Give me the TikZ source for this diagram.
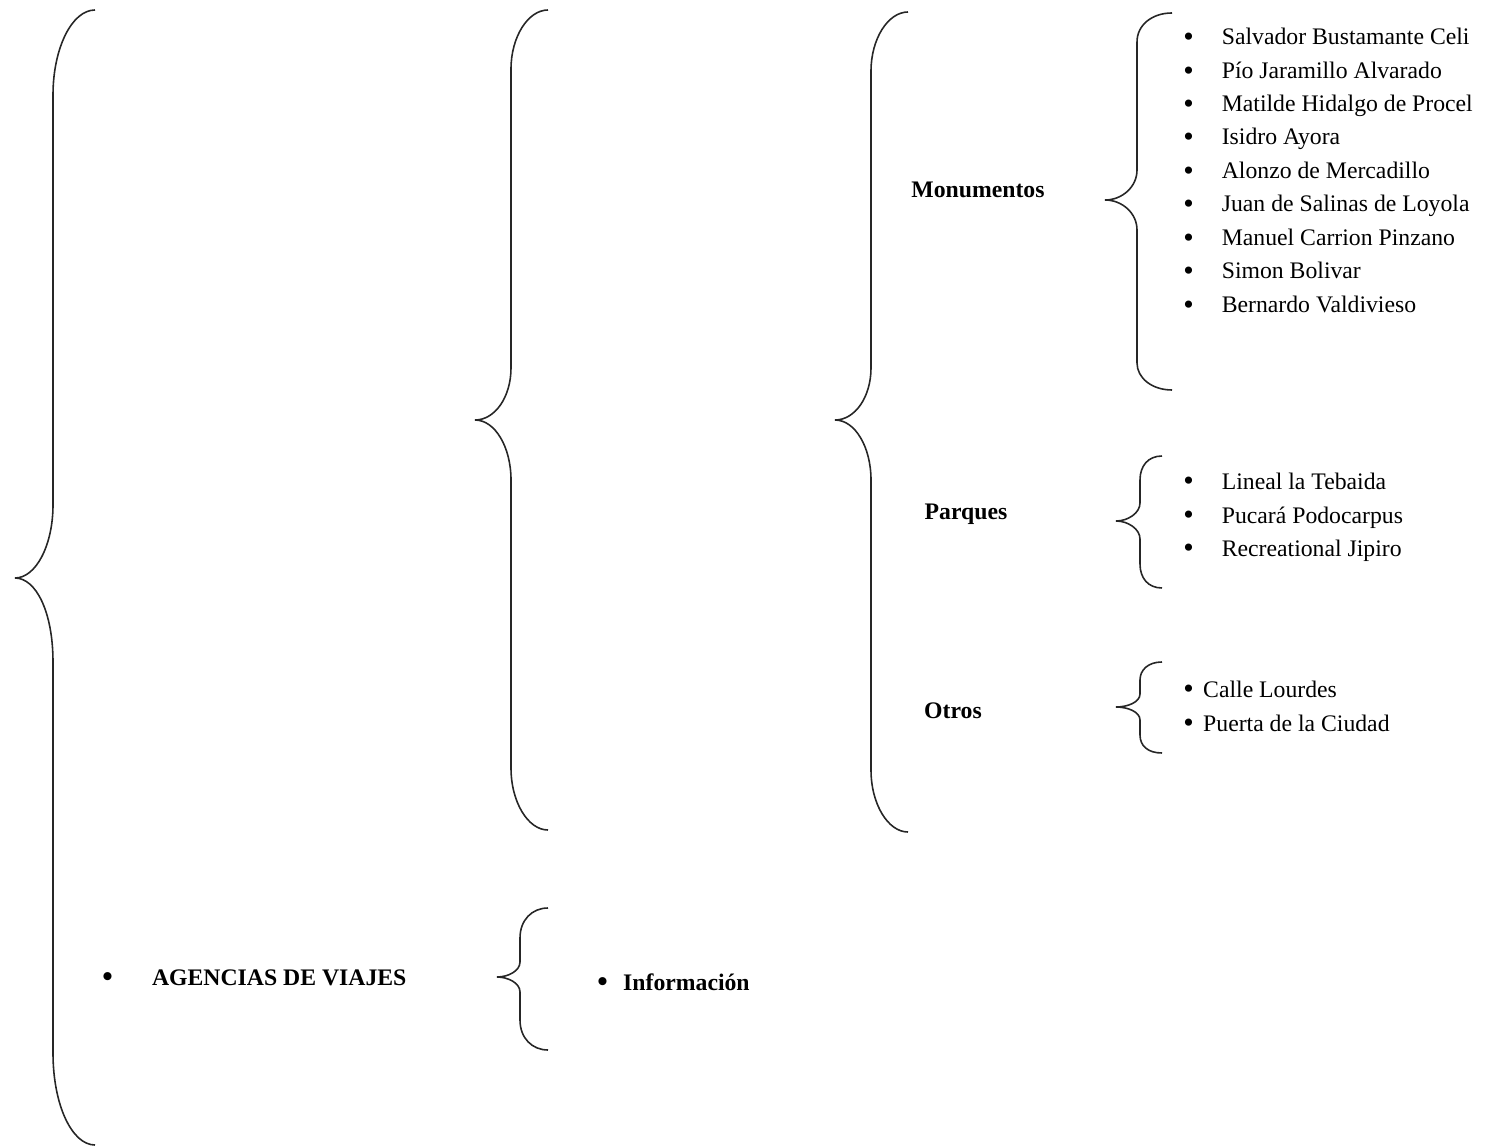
\documentclass[tikz,border=0pt]{standalone}
\usepackage{fontspec}
\setmainfont{Liberation Serif}

\tikzset{
	llave/.style={line width=0.9pt, color=black!85},
	lista/.style={anchor=base west, inner sep=0pt, font=\fontsize{13.5}{16}\selectfont},
	titulo/.style={anchor=base, inner sep=0pt, font=\fontsize{13.5}{16}\selectfont\bfseries},
}
\newcommand{\vineta}[1]{\makebox[#1][l]{\raisebox{-1pt}{\fontsize{17}{17}\selectfont\textbullet}}}

\begin{document}
\begin{tikzpicture}[x=0.02cm, y=-0.02cm]

		\useasboundingbox (0,0) rectangle (1497,1148);

		% llaves grandes
		\draw[llave] (95,10) .. controls (72,10) and (53,48) .. (53,95) -- (53,505) .. controls (53,545) and (36,578) .. (15,578) .. controls (36,578) and (53,612) .. (53,662) -- (53,1053) .. controls (53,1105) and (72,1145) .. (95,1145);
		\draw[llave] (548,10) .. controls (528,10) and (511,37) .. (511,69) -- (511,368) .. controls (511,397) and (495,420) .. (475,420) .. controls (495,420) and (511,447) .. (511,480) -- (511,768) .. controls (511,802) and (528,830) .. (548,830);
		\draw[llave] (908,12) .. controls (888,12) and (871,39) .. (871,71) -- (871,368) .. controls (871,397) and (855,420) .. (835,420) .. controls (855,420) and (871,447) .. (871,480) -- (871,770) .. controls (871,804) and (888,832) .. (908,832);

		% llaves de las listas
		\draw[llave] (1172,13) .. controls (1152,13) and (1137,25) .. (1137,42) -- (1137,170) .. controls (1137,187) and (1122,200) .. (1105,200) .. controls (1122,200) and (1137,213) .. (1137,230) -- (1137,363) .. controls (1137,378) and (1152,390) .. (1172,390);
		\draw[llave] (1162,456) .. controls (1148,456) and (1140,466) .. (1140,480) -- (1140,503) .. controls (1140,513) and (1128,521) .. (1116,521) .. controls (1128,521) and (1140,529) .. (1140,539) -- (1140,564) .. controls (1140,578) and (1148,588) .. (1162,588);
		\draw[llave] (1162,662) .. controls (1148,662) and (1140,670) .. (1140,680) -- (1140,694) .. controls (1140,702) and (1128,707) .. (1116,707) .. controls (1128,707) and (1140,712) .. (1140,720) -- (1140,735) .. controls (1140,746) and (1148,753) .. (1162,753);
		\draw[llave] (548,908) .. controls (532,908) and (520,920) .. (520,938) -- (520,962) .. controls (520,971) and (508,977) .. (497,977) .. controls (508,977) and (520,983) .. (520,992) -- (520,1020) .. controls (520,1038) and (532,1050) .. (548,1050);

		% titulos
		\node[titulo] (monumentos) at (978,198) {Monumentos};
		\node[titulo] (parques) at (966,520) {Parques};
		\node[titulo] (otros) at (953,718) {Otros};

		% monumentos
		\node[lista] (m1) at (1183,45) {\vineta{21.9pt}Salvador Bustamante Celi};
		\node[lista] (m2) at (1183,79) {\vineta{21.9pt}Pío Jaramillo Alvarado};
		\node[lista] (m3) at (1183,112) {\vineta{21.9pt}Matilde Hidalgo de Procel};
		\node[lista] (m4) at (1183,145) {\vineta{21.9pt}Isidro Ayora};
		\node[lista] (m5) at (1183,179) {\vineta{21.9pt}Alonzo de Mercadillo};
		\node[lista] (m6) at (1183,212) {\vineta{21.9pt}Juan de Salinas de Loyola};
		\node[lista] (m7) at (1183,246) {\vineta{21.9pt}Manuel Carrion Pinzano};
		\node[lista] (m8) at (1183,279) {\vineta{21.9pt}Simon Bolivar};
		\node[lista] (m9) at (1183,313) {\vineta{21.9pt}Bernardo Valdivieso};

		% parques
		\node[lista] (p1) at (1183,489) {\vineta{21.9pt}Lineal la Tebaida};
		\node[lista] (p2) at (1183,523) {\vineta{21.9pt}Pucará Podocarpus};
		\node[lista] (p3) at (1183,556) {\vineta{21.9pt}Recreational Jipiro};

		% otros
		\node[lista] (o1) at (1183,697) {\vineta{11.3pt}Calle Lourdes};
		\node[lista] (o2) at (1183,731) {\vineta{11.3pt}Puerta de la Ciudad};

		% agencias
		\node[lista, font=\fontsize{13.5}{16}\selectfont\bfseries] (agencias) at (102,985) {\vineta{28.3pt}AGENCIAS DE VIAJES};
		\node[lista, font=\fontsize{13.5}{16}\selectfont\bfseries] (informacion) at (597,990) {\vineta{14.7pt}Información};

	\end{tikzpicture}
\end{document}
